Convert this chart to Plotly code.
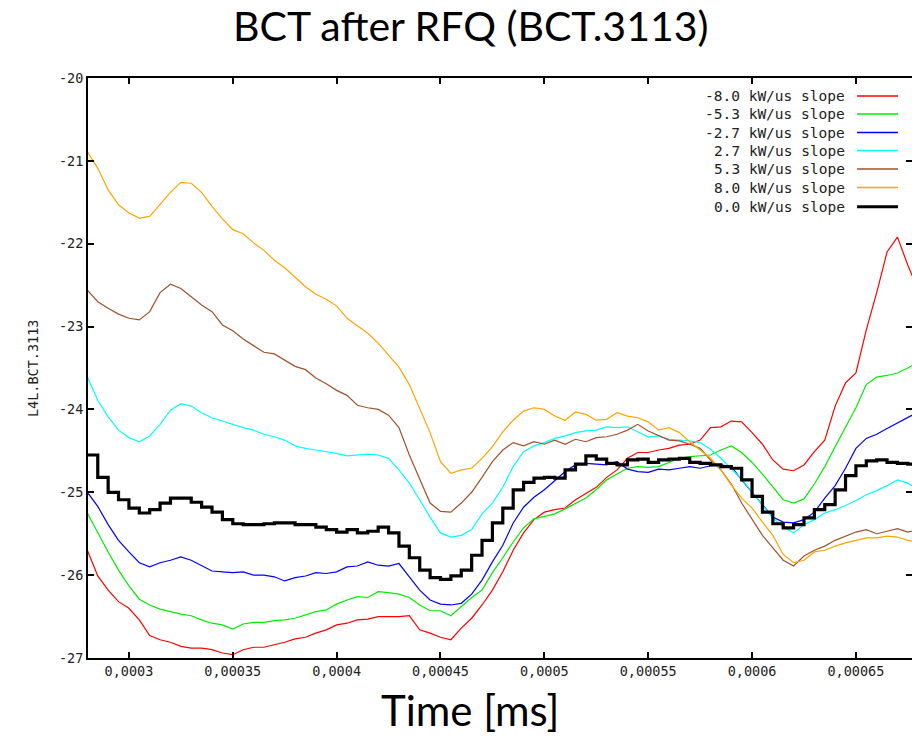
import plotly.graph_objects as go

# ---------------- data ----------------
TIME = [
    0.000280, 0.000285, 0.000290, 0.000295, 0.000300, 0.000305, 0.000310, 0.000315, 0.000320, 0.000325,
    0.000330, 0.000335, 0.000340, 0.000345, 0.000350, 0.000355, 0.000360, 0.000365, 0.000370, 0.000375,
    0.000380, 0.000385, 0.000390, 0.000395, 0.000400, 0.000405, 0.000410, 0.000415, 0.000420, 0.000425,
    0.000430, 0.000435, 0.000440, 0.000445, 0.000450, 0.000455, 0.000460, 0.000465, 0.000470, 0.000475,
    0.000480, 0.000485, 0.000490, 0.000495, 0.000500, 0.000505, 0.000510, 0.000515, 0.000520, 0.000525,
    0.000530, 0.000535, 0.000540, 0.000545, 0.000550, 0.000555, 0.000560, 0.000565, 0.000570, 0.000575,
    0.000580, 0.000585, 0.000590, 0.000595, 0.000600, 0.000605, 0.000610, 0.000615, 0.000620, 0.000625,
    0.000630, 0.000635, 0.000640, 0.000645, 0.000650, 0.000655, 0.000660, 0.000665, 0.000670, 0.000675,
    0.000680,
]

SLOPE_M80 = [
    -25.70, -26.01, -26.18, -26.32, -26.40, -26.54, -26.73, -26.78, -26.81, -26.86,
    -26.88, -26.88, -26.90, -26.94, -26.96, -26.90, -26.87, -26.87, -26.84, -26.81,
    -26.77, -26.75, -26.70, -26.66, -26.60, -26.58, -26.54, -26.53, -26.50, -26.50,
    -26.50, -26.49, -26.66, -26.70, -26.75, -26.78, -26.64, -26.52, -26.36, -26.18,
    -25.96, -25.70, -25.49, -25.33, -25.24, -25.21, -25.19, -25.09, -25.01, -24.94,
    -24.82, -24.73, -24.59, -24.52, -24.52, -24.49, -24.47, -24.43, -24.42, -24.37,
    -24.22, -24.21, -24.14, -24.15, -24.28, -24.42, -24.61, -24.72, -24.74, -24.67,
    -24.51, -24.37, -23.96, -23.68, -23.56, -23.04, -22.59, -22.10, -21.92, -22.26,
    -22.56,
]
SLOPE_M53 = [
    -25.25, -25.49, -25.72, -25.94, -26.13, -26.29, -26.36, -26.41, -26.44, -26.47,
    -26.49, -26.54, -26.58, -26.60, -26.65, -26.59, -26.57, -26.57, -26.55, -26.54,
    -26.52, -26.48, -26.44, -26.42, -26.35, -26.30, -26.26, -26.27, -26.20, -26.21,
    -26.23, -26.27, -26.36, -26.43, -26.43, -26.49, -26.38, -26.27, -26.18, -25.97,
    -25.79, -25.60, -25.43, -25.32, -25.29, -25.26, -25.20, -25.14, -25.07, -24.97,
    -24.85, -24.78, -24.71, -24.69, -24.70, -24.69, -24.64, -24.59, -24.57, -24.56,
    -24.55, -24.49, -24.44, -24.52, -24.64, -24.78, -24.94, -25.09, -25.13, -25.08,
    -24.90, -24.69, -24.45, -24.22, -23.98, -23.70, -23.61, -23.59, -23.56, -23.50,
    -23.43,
]
SLOPE_M27 = [
    -25.00, -25.17, -25.39, -25.58, -25.72, -25.85, -25.90, -25.85, -25.82, -25.78,
    -25.82, -25.88, -25.95, -25.96, -25.97, -25.96, -26.00, -26.00, -26.02, -26.07,
    -26.03, -26.01, -25.97, -25.98, -25.96, -25.90, -25.89, -25.84, -25.88, -25.89,
    -25.86, -26.02, -26.18, -26.30, -26.35, -26.36, -26.34, -26.23, -26.06, -25.84,
    -25.64, -25.37, -25.18, -25.06, -24.97, -24.86, -24.75, -24.67, -24.65, -24.66,
    -24.67, -24.63, -24.72, -24.75, -24.76, -24.72, -24.73, -24.71, -24.69, -24.71,
    -24.68, -24.67, -24.69, -24.85, -25.00, -25.15, -25.30, -25.36, -25.37, -25.33,
    -25.24, -25.07, -24.92, -24.71, -24.47, -24.35, -24.30, -24.23, -24.16, -24.09,
    -24.03,
]
SLOPE_P27 = [
    -23.61, -23.89, -24.09, -24.25, -24.34, -24.39, -24.32, -24.18, -24.01, -23.93,
    -23.96, -24.04, -24.10, -24.14, -24.18, -24.22, -24.25, -24.30, -24.33, -24.37,
    -24.44, -24.47, -24.49, -24.51, -24.53, -24.56, -24.55, -24.54, -24.55, -24.59,
    -24.73, -24.89, -25.09, -25.30, -25.49, -25.54, -25.52, -25.45, -25.26, -25.13,
    -24.94, -24.69, -24.51, -24.44, -24.40, -24.35, -24.32, -24.28, -24.26, -24.25,
    -24.21, -24.22, -24.21, -24.27, -24.33, -24.32, -24.36, -24.37, -24.38, -24.40,
    -24.48, -24.59, -24.71, -24.84, -25.00, -25.15, -25.31, -25.42, -25.49, -25.39,
    -25.33, -25.25, -25.21, -25.16, -25.10, -25.03, -24.98, -24.92, -24.85, -24.89,
    -24.97,
]
SLOPE_P53 = [
    -22.56, -22.70, -22.78, -22.85, -22.90, -22.92, -22.82, -22.59, -22.49, -22.54,
    -22.64, -22.74, -22.82, -22.98, -23.05, -23.15, -23.23, -23.31, -23.33, -23.40,
    -23.48, -23.52, -23.62, -23.69, -23.77, -23.83, -23.95, -23.98, -24.00, -24.07,
    -24.22, -24.55, -24.85, -25.13, -25.23, -25.24, -25.13, -25.00, -24.82, -24.63,
    -24.49, -24.40, -24.44, -24.39, -24.42, -24.37, -24.42, -24.36, -24.39, -24.34,
    -24.33, -24.30, -24.25, -24.18, -24.26, -24.32, -24.37, -24.38, -24.42, -24.47,
    -24.61, -24.73, -24.90, -25.13, -25.33, -25.52, -25.67, -25.82, -25.89, -25.77,
    -25.70, -25.65, -25.58, -25.53, -25.48, -25.45, -25.50, -25.47, -25.44, -25.48,
    -25.45,
]
SLOPE_P80 = [
    -20.89, -21.09, -21.35, -21.53, -21.63, -21.69, -21.67, -21.53, -21.38, -21.26,
    -21.27, -21.38, -21.55, -21.70, -21.83, -21.88, -21.99, -22.08, -22.20, -22.29,
    -22.40, -22.52, -22.61, -22.67, -22.75, -22.90, -22.99, -23.08, -23.20, -23.34,
    -23.49, -23.70, -24.00, -24.28, -24.63, -24.77, -24.73, -24.71, -24.59, -24.45,
    -24.27, -24.13, -24.02, -23.98, -24.00, -24.08, -24.13, -24.03, -24.06, -24.13,
    -24.12, -24.04, -24.08, -24.10, -24.15, -24.25, -24.22, -24.28, -24.39, -24.49,
    -24.59, -24.73, -24.91, -25.07, -25.19, -25.36, -25.52, -25.75, -25.85, -25.82,
    -25.72, -25.70, -25.65, -25.61, -25.58, -25.55, -25.55, -25.53, -25.54, -25.58,
    -25.60,
]
SLOPE_00 = [
    -24.55, -24.82, -25.00, -25.09, -25.19, -25.25, -25.21, -25.13, -25.07, -25.07,
    -25.12, -25.18, -25.24, -25.33, -25.38, -25.39, -25.39, -25.38, -25.37, -25.37,
    -25.39, -25.39, -25.42, -25.45, -25.48, -25.45, -25.49, -25.47, -25.42, -25.49,
    -25.65, -25.79, -25.94, -26.03, -26.05, -26.01, -25.94, -25.76, -25.58, -25.37,
    -25.19, -24.97, -24.88, -24.83, -24.82, -24.83, -24.73, -24.66, -24.56, -24.60,
    -24.65, -24.67, -24.61, -24.60, -24.64, -24.61, -24.60, -24.59, -24.64, -24.65,
    -24.67, -24.69, -24.71, -24.85, -25.05, -25.24, -25.38, -25.43, -25.39, -25.31,
    -25.21, -25.15, -24.97, -24.80, -24.68, -24.62, -24.61, -24.64, -24.65, -24.66,
    -24.66,
]

SERIES_NAMES = [
    "-8.0 kW/us slope", "-5.3 kW/us slope", "-2.7 kW/us slope",
    "2.7 kW/us slope", "5.3 kW/us slope", "8.0 kW/us slope", "0.0 kW/us slope",
]
SERIES_VALUES = [SLOPE_M80, SLOPE_M53, SLOPE_M27, SLOPE_P27, SLOPE_P53, SLOPE_P80, SLOPE_00]

X_TICK_VALUES = [0.0003, 0.00035, 0.0004, 0.00045, 0.0005, 0.00055, 0.0006, 0.00065]
X_TICK_LABELS = ["0,0003", "0,00035", "0,0004", "0,00045", "0,0005", "0,00055", "0,0006", "0,00065"]
Y_TICK_VALUES = [-27, -26, -25, -24, -23, -22, -21, -20]
Y_TICK_LABELS = ["-27", "-26", "-25", "-24", "-23", "-22", "-21", "-20"]

TITLE = "BCT after RFQ (BCT.3113)"
X_TITLE = "Time [ms]"
Y_TITLE = "L4L.BCT.3113"

# ---------------- styles ----------------
COLORS = ["#ff0000", "#00ee00", "#0000ff", "#00ffff", "#a0522d", "#ffa500", "#000000"]
WIDTHS = [1.2, 1.2, 1.2, 1.2, 1.2, 1.2, 3.2]
SHAPES = ["linear"] * 6 + ["hv"]
MONO = "DejaVu Sans Mono"
SANS = "Lato"

fig = go.Figure()
for name, vals, color, w, shp in zip(SERIES_NAMES, SERIES_VALUES, COLORS, WIDTHS, SHAPES):
    fig.add_trace(go.Scatter(
        x=TIME, y=vals, mode="lines", name=name,
        line=dict(color=color, width=w, shape=shp),
        showlegend=False,
    ))

# empty trace so the right-hand tick axis is rendered
fig.add_trace(go.Scatter(x=[], y=[], yaxis="y2", showlegend=False, hoverinfo="skip"))

x_range = [0.0002803, 0.000677]

fig.update_layout(
    width=912, height=752, autosize=False,
    margin=dict(l=88, r=0, t=78, b=94),
    paper_bgcolor="white", plot_bgcolor="white",
    showlegend=False,
    xaxis=dict(
        range=x_range, showgrid=False, zeroline=False,
        showline=True, linecolor="black", linewidth=2, mirror="ticks",
        ticks="inside", ticklen=6, tickwidth=2, tickcolor="black",
        tickvals=X_TICK_VALUES, ticktext=X_TICK_LABELS,
        tickfont=dict(family=MONO, size=13.5, color="#222222"),
    ),
    yaxis=dict(
        range=[-27, -20], showgrid=False, zeroline=False,
        showline=True, linecolor="black", linewidth=2, mirror=False,
        ticks="inside", ticklen=6, tickwidth=2, tickcolor="black",
        tickvals=Y_TICK_VALUES, ticktext=Y_TICK_LABELS,
        tickfont=dict(family=MONO, size=13.5, color="#222222"),
    ),
    yaxis2=dict(
        range=[-27, -20], overlaying="y", side="right",
        showgrid=False, zeroline=False, showline=False,
        ticks="inside", ticklen=6, tickwidth=2, tickcolor="black",
        tickvals=Y_TICK_VALUES, showticklabels=False,
    ),
)

annotations = [
    dict(text=TITLE, xref="paper", yref="paper", x=0.4636, y=1.0897,
         xanchor="center", yanchor="middle", showarrow=False,
         font=dict(family=SANS, size=41, color="black")),
    dict(text=X_TITLE, xref="paper", yref="paper", x=0.4636, y=-0.0897,
         xanchor="center", yanchor="middle", showarrow=False,
         font=dict(family=SANS, size=42, color="black")),
    dict(text=Y_TITLE, xref="paper", yref="paper", x=-0.0667, y=0.5,
         xanchor="center", yanchor="middle", showarrow=False, textangle=-90,
         font=dict(family=MONO, size=13.5, color="#222222")),
]

# custom legend: text right-aligned, line sample on its right (gnuplot style)
legend_rows = [0.969, 0.938, 0.906, 0.875, 0.843, 0.811, 0.778]
shapes = []
for name, color, w, yy in zip(SERIES_NAMES, COLORS, WIDTHS, legend_rows):
    annotations.append(dict(
        text=name, xref="paper", yref="paper", x=0.9211, y=yy,
        xanchor="right", yanchor="middle", showarrow=False,
        font=dict(family=MONO, size=14.5, color="#222222"),
    ))
    shapes.append(dict(
        type="line", xref="paper", yref="paper", x0=0.9333, x1=0.983, y0=yy, y1=yy,
        line=dict(color=color, width=max(w, 1.5)),
    ))

fig.update_layout(annotations=annotations, shapes=shapes)

fig.write_html("out.html")
